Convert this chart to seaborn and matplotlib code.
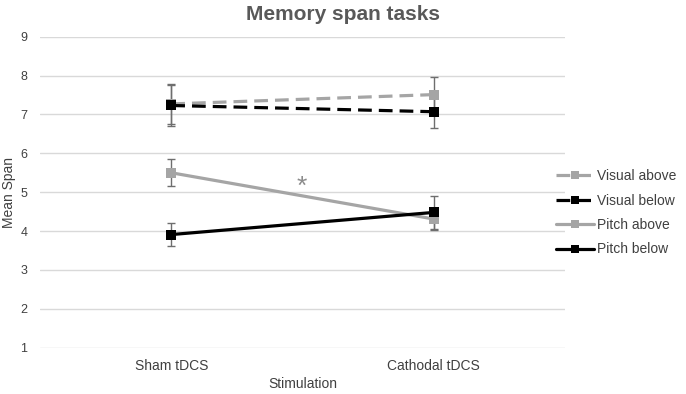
import matplotlib
matplotlib.use("Agg")
import matplotlib.pyplot as plt
import seaborn as sns
import pandas as pd
from matplotlib.lines import Line2D

categories = ["Sham tDCS", "Cathodal tDCS"]
series_names = ["Visual above", "Visual below", "Pitch above", "Pitch below"]
visual_above = [7.27, 7.51]
visual_below = [7.23, 7.07]
pitch_above = [5.50, 4.31]
pitch_below = [3.91, 4.48]
visual_above_err = [0.51, 0.46]
visual_below_err = [0.53, 0.43]
pitch_above_err = [0.35, 0.28]
pitch_below_err = [0.29, 0.42]
y_ticks = [1, 2, 3, 4, 5, 6, 7, 8, 9]

values = [visual_above, visual_below, pitch_above, pitch_below]
errors = [visual_above_err, visual_below_err, pitch_above_err, pitch_below_err]

rows = []
for name, vals, errs in zip(series_names, values, errors):
    for c, v, e in zip(categories, vals, errs):
        rows.append({"Stimulation": c, "Mean Span": v, "err": e, "Series": name})
df = pd.DataFrame(rows)

sns.set_theme(style="white")
plt.rcParams["font.family"] = ["Liberation Sans", "DejaVu Sans"]

colors = {"Visual above": "#A5A5A5", "Visual below": "#000000",
          "Pitch above": "#A5A5A5", "Pitch below": "#000000"}
dash_pat = (4.3, 2.2)
dashes = {"Visual above": dash_pat, "Visual below": dash_pat,
          "Pitch above": "", "Pitch below": ""}

fig = plt.figure(figsize=(6.86, 3.94), dpi=100)
ax = fig.add_axes([0.0583, 0.1175, 0.7653, 0.7894])

xpos = {c: i for i, c in enumerate(categories)}
for name in series_names:
    sub = df[df["Series"] == name]
    ax.errorbar([xpos[c] for c in sub["Stimulation"]], sub["Mean Span"], yerr=sub["err"],
                fmt="none", ecolor="#6E6E6E", elinewidth=1.0, capsize=3, capthick=1.0, zorder=2)

sns.lineplot(data=df, x="Stimulation", y="Mean Span", hue="Series", style="Series",
             hue_order=series_names, style_order=series_names,
             palette=colors, dashes=dashes, markers={n: "s" for n in series_names},
             markersize=7, markeredgewidth=0, linewidth=2.3, sort=False,
             legend=False, ax=ax, zorder=3)

ax.set_xlim(-0.5, 1.5)
ax.set_ylim(1, 9)
ax.set_yticks(y_ticks)
ax.set_yticklabels([str(t) for t in y_ticks], fontsize=9, color="#404040")
ax.set_xticks(range(len(categories)))
ax.set_xticklabels(categories, fontsize=10, color="#404040")
ax.tick_params(axis="y", length=0, pad=9)
ax.tick_params(axis="x", length=0, pad=8)
ax.grid(axis="y", color="#D9D9D9", linewidth=1.0)
ax.set_axisbelow(True)
for s in ax.spines.values():
    s.set_visible(False)

ax.set_xlabel("Stimulation", fontsize=10, color="#404040", labelpad=3)
ax.set_ylabel("Mean Span", fontsize=10, color="#404040")
ax.yaxis.set_label_coords(-0.046, 0.5)
fig.text(0.5, 0.963, "Memory span tasks", fontsize=15, fontweight="bold",
         color="#595959", ha="center", va="center")

ax.text(0.498, 5.15, "*", fontsize=19, color="#8C8C8C", ha="center", va="center")

handles = []
for name in series_names:
    ls = (0, dash_pat) if "Visual" in name else "-"
    handles.append(Line2D([0], [0], color=colors[name], linestyle=ls, linewidth=2.3,
                          marker="s", markersize=6, markeredgewidth=0))
fig.legend(handles=handles, labels=series_names, loc="center left",
           bbox_to_anchor=(0.793, 0.46), frameon=False, fontsize=10,
           handlelength=2.7, labelspacing=0.75, handletextpad=0.2,
           labelcolor="#404040")

fig.savefig("out.png", dpi=100)
